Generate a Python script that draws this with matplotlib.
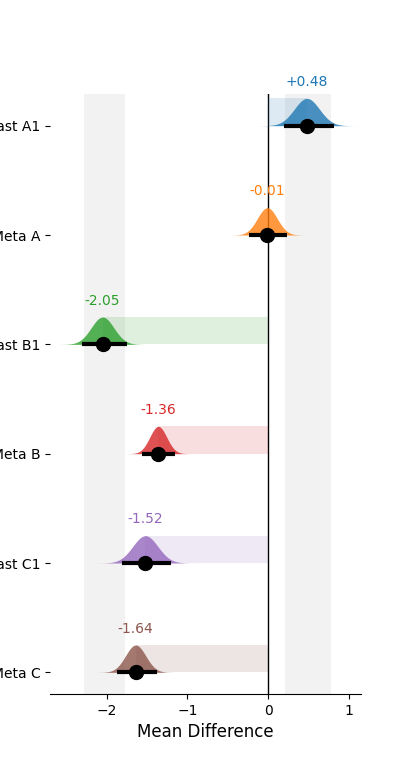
import numpy as np
import matplotlib
matplotlib.use("Agg")
import matplotlib.pyplot as plt

# rows listed top to bottom
labels = ["Contrast A1", "Meta A", "Contrast B1", "Meta B", "Contrast C1", "Meta C"]
means = [0.48, -0.01, -2.05, -1.36, -1.52, -1.64]
ci_low = [0.20, -0.24, -2.30, -1.56, -1.81, -1.87]
ci_high = [0.81, 0.24, -1.75, -1.15, -1.20, -1.38]
value_text = ["+0.48", "-0.01", "-2.05", "-1.36", "-1.52", "-1.64"]
colors = ["tab:blue", "tab:orange", "tab:green", "tab:red", "tab:purple", "tab:brown"]

# grey reference bands
bands = [(-2.28, -1.77), (0.21, 0.78)]

fig = plt.figure(figsize=(4, 7.8), dpi=100)
ax = fig.add_axes([0.125, 0.110, 0.7775, 0.7695])

for lo, hi in bands:
    ax.axvspan(lo, hi, color="gray", alpha=0.1, lw=0, zorder=0)

ax.axvline(0, color="black", lw=1, zorder=1)

n = len(labels)
height = 0.25
for i in range(n):
    y = n - 1 - i
    m = means[i]
    sd = (ci_high[i] - ci_low[i]) / (2 * 1.96)
    xs = np.linspace(m - 4 * sd, m + 4 * sd, 300)
    dens = np.exp(-0.5 * ((xs - m) / sd) ** 2)
    dens = dens / dens.max() * height
    # difference bar from zero to the mean
    ax.fill_between([min(0, m), max(0, m)], y, y + height,
                    color=colors[i], alpha=0.15, lw=0, zorder=2)
    ax.fill_between(xs, y, y + dens, color=colors[i], alpha=0.8, lw=0, zorder=3)
    ax.plot([ci_low[i], ci_high[i]], [y, y], color="black", lw=3,
            solid_capstyle="butt", zorder=4)
    ax.plot(m, y, "o", color="black", markersize=10, zorder=5)
    ax.text(m, y + 0.4, value_text[i], color=colors[i], ha="center",
            va="center", fontsize=10, clip_on=False)

ax.set_yticks(range(n))
ax.set_yticklabels(labels[::-1], fontsize=10)
ax.set_ylim(-0.2, n - 1 + 0.29)
ax.set_xlim(-2.70, 1.15)
ax.set_xticks([-2, -1, 0, 1])
ax.tick_params(axis="x", labelsize=10)
ax.set_xlabel("Mean Difference", fontsize=12)
for side in ["top", "right", "left"]:
    ax.spines[side].set_visible(False)

fig.savefig("out.png", dpi=100)
